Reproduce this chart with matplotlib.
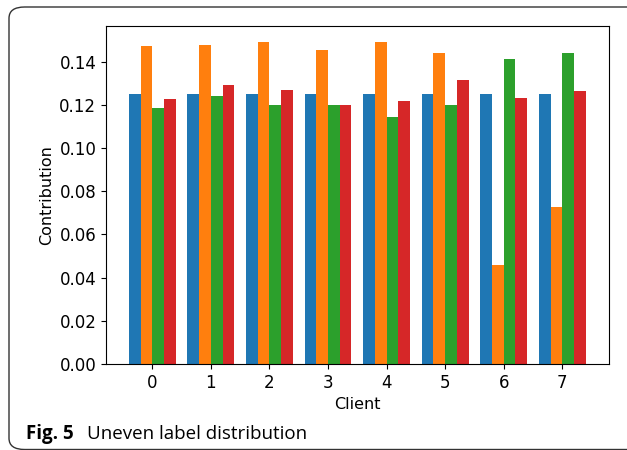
import matplotlib.pyplot as plt
import numpy as np
from matplotlib.patches import FancyBboxPatch

clients = [0, 1, 2, 3, 4, 5, 6, 7]
series_a = [0.125, 0.125, 0.125, 0.125, 0.125, 0.125, 0.125, 0.125]
series_b = [0.147, 0.1475, 0.149, 0.1455, 0.149, 0.144, 0.046, 0.0725]
series_c = [0.1185, 0.124, 0.1197, 0.1197, 0.1143, 0.1197, 0.141, 0.144]
series_d = [0.1228, 0.1292, 0.1266, 0.1197, 0.1217, 0.1314, 0.1231, 0.1262]

W, H = 627, 450
fig = plt.figure(figsize=(W / 100, H / 100), dpi=100)
ax = fig.add_axes([106 / W, 1 - 364 / H, (608.5 - 106) / W, (364 - 26) / H])

x = np.arange(len(clients))
width = 0.2
for i, vals in enumerate([series_a, series_b, series_c, series_d]):
    ax.bar(x + (i - 1.5) * width, vals, width, color=f"C{i}")

ax.set_xticks(x)
ax.set_xticklabels([str(c) for c in clients])
ax.set_xlabel("Client", fontsize=11.5)
ax.set_ylabel("Contribution", fontsize=11.5)
ax.tick_params(labelsize=12)

# rounded frame around the figure + caption
frame = FancyBboxPatch((9 / W, 0.5 / H), 1.2, (H - 7.5) / H,
                       boxstyle="round,pad=0,rounding_size=0.025",
                       transform=fig.transFigure, fill=False,
                       edgecolor="#333333", linewidth=1.0)
fig.patches.append(frame)
fig.text(26 / W, 1 - 434 / H, "Fig. 5", fontsize=13.5, fontweight="bold",
         family="Open Sans", va="center", ha="left")
fig.text(87 / W, 1 - 434 / H, "Uneven label distribution", fontsize=13.5,
         family="Open Sans", va="center", ha="left")

fig.savefig("out.png", dpi=100)
